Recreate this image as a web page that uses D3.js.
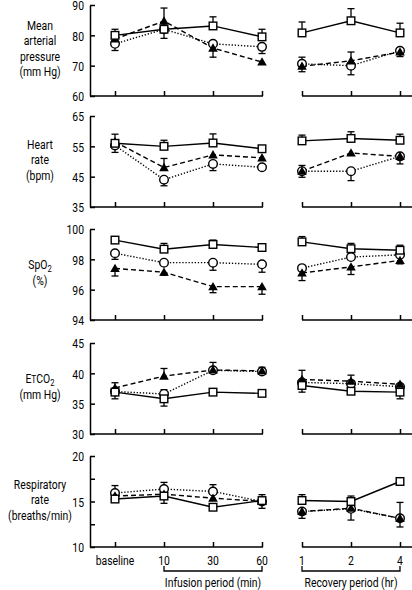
<!DOCTYPE html>
<html><head><meta charset="utf-8">
<script src="https://cdn.jsdelivr.net/npm/d3@7"></script>
<style>
body{margin:0;background:#fff;}
svg text{font-family:Roboto,"Open Sans",sans-serif;fill:#000;}
</style></head>
<body><svg id="c" width="412" height="590"></svg>
<script>
// ---- data ----
const infusionTimes = ["baseline","10","30","60"];
const recoveryTimes = ["1","2","4"];
const infusionLabel = "Infusion period (min)";
const recoveryLabel = "Recovery period (hr)";

const panelDomains = [[60,90],[35,65],[94,100],[30,45],[10,20]];
const panelTicks = [[60,70,80,90],[35,45,55,65],[94,96,98,100],[30,35,40,45],[10,12.5,15,17.5,20]];
const panelTickLabels = [["60","70","80","90"],["35","45","55","65"],["94","96","98","100"],["30","35","40","45"],["10","","15","","20"]];

// values: 7 points = baseline,10,30,60 | 1,2,4 hr
const mapSquare   = [80, 82, 83.1, 79.5, 80.8, 84.8, 80.8];
const mapCircle   = [77.2, 82, 77.2, 76.2, 70.6, 70, 74.9];
const mapTriangle = [78.8, 84.7, 75.8, 71.2, 69.8, 71.6, 74.5];
const mapSquareErr   = [2, 0, 3, 2.5, 3.6, 4, 3.2];
const mapCircleErr   = [-2.2, -3, 0, -2.2, -2.6, -3, -1.9];
const mapTriangleErr = [0, 4.3, -3, 0, 3, 2.9, 0];

const hrSquare   = [56, 55, 56.1, 54.2, 56.8, 57.6, 57];
const hrCircle   = [55.3, 44, 49.2, 48.1, 46.8, 46.8, 51.7];
const hrTriangle = [56.5, 48, 52.2, 51.2, 46.8, 52.8, 51.7];
const hrSquareErr   = [0, 2, 3, 0, 1.9, 2.2, 2];
const hrCircleErr   = [-2.3, -2, -2.2, 0, -2, -3.1, -2.5];
const hrTriangleErr = [2.5, 3, 0, 0, 1.9, 0, 0];

const spo2Square   = [99.27, 98.67, 98.98, 98.78, 99.15, 98.7, 98.6];
const spo2Circle   = [98.4, 97.78, 97.78, 97.67, 97.42, 98.15, 98.3];
const spo2Triangle = [97.4, 97.15, 96.2, 96.2, 97.1, 97.5, 97.93];
const spo2SquareErr   = [0, 0.38, 0.29, 0, 0.35, 0.35, 0.33];
const spo2CircleErr   = [-0.4, 0, -0.5, -0.52, 0, 0, 0];
const spo2TriangleErr = [-0.5, -0.2, -0.4, -0.5, -0.5, -0.5, -0.23];

const etco2Square   = [36.9, 35.8, 36.9, 36.7, 38.0, 37.05, 36.9];
const etco2Circle   = [37.0, 36.6, 40.5, 40.3, 38.5, 38.3, 37.8];
const etco2Triangle = [37.6, 39.55, 40.55, 40.4, 39.0, 38.7, 38.2];
const etco2SquareErr   = [-1.1, -1.2, 0, 0, -1.1, 0, -1.1];
const etco2CircleErr   = [0, 0.7, 0, 0, 0, 0, 0];
const etco2TriangleErr = [0.85, 1.25, 1.25, 0.6, 1.5, 1.0, 0];

const rrSquare   = [15.27, 15.6, 14.37, 15.1, 15.11, 15.0, 17.2];
const rrCircle   = [15.93, 16.37, 16.1, 15.0, 13.9, 14.2, 13.15];
const rrTriangle = [15.6, 15.8, 15.37, 15.0, 13.9, 14.26, 13.15];
const rrSquareErr   = [0, -0.8, 0, -0.85, 0.64, 0.6, 0];
const rrCircleErr   = [0.82, 0.73, 0.75, 0.75, 0, 0, 1.75];
const rrTriangleErr = [0, 0, 0, 0, -0.75, -1.3, -0.95];

const panels = [
  {lines:[["Mean"],["arterial"],["pressure"],["(mm Hg)"]], sq:mapSquare, ci:mapCircle, tr:mapTriangle, sqE:mapSquareErr, ciE:mapCircleErr, trE:mapTriangleErr},
  {lines:[["Heart"],["rate"],["(bpm)"]], sq:hrSquare, ci:hrCircle, tr:hrTriangle, sqE:hrSquareErr, ciE:hrCircleErr, trE:hrTriangleErr},
  {lines:[["SpO",["2","sub"]],["(%)"]], sq:spo2Square, ci:spo2Circle, tr:spo2Triangle, sqE:spo2SquareErr, ciE:spo2CircleErr, trE:spo2TriangleErr},
  {lines:[["E",["T","small"],"CO",["2","sub"]],["(mm Hg)"]], sq:etco2Square, ci:etco2Circle, tr:etco2Triangle, sqE:etco2SquareErr, ciE:etco2CircleErr, trE:etco2TriangleErr},
  {lines:[["Respiratory"],["rate"],["(breaths/min)"]], sq:rrSquare, ci:rrCircle, tr:rrTriangle, sqE:rrSquareErr, ciE:rrCircleErr, trE:rrTriangleErr}
];

// ---- layout ----
const SX = 0.8;   // horizontal condensing of the text face
const FS = 13;
const svg = d3.select("#c");
const axisX = 90;
const panelTop = [5, 116, 229, 343, 456];
const panelH = 91;
const xInf = d3.scalePoint().domain(infusionTimes).range([115, 262]);
const xRec = d3.scalePoint().domain(recoveryTimes).range([302, 400]);
const allTimes = infusionTimes.map(t=>({k:t, x:xInf(t), seg:0})).concat(recoveryTimes.map(t=>({k:t, x:xRec(t), seg:1})));

function condText(parent, x, y, anchor) {
  return parent.append("text")
    .attr("transform", `translate(${x},${y}) scale(${SX},1)`)
    .attr("text-anchor", anchor).attr("font-size", FS);
}

panels.forEach((p, i) => {
  const top = panelTop[i], bot = top + panelH;
  const y = d3.scaleLinear().domain(panelDomains[i]).range([bot, top]);
  const g = svg.append("g");

  // y axis
  const ya = d3.axisLeft(y).tickValues(panelTicks[i])
    .tickFormat((d,j)=>panelTickLabels[i][j]).tickSizeInner(-5).tickSizeOuter(0).tickPadding(0);
  const yg = g.append("g").attr("transform",`translate(${axisX},0)`).call(ya);
  yg.selectAll("path.domain").attr("stroke","#000").attr("stroke-width",1.5);
  yg.selectAll(".tick line").attr("stroke","#000").attr("stroke-width",1.5);
  yg.selectAll(".tick text").attr("font-size",FS).attr("x",0).attr("dy","0.36em")
    .attr("transform",`translate(-6,0) scale(${SX},1)`);

  // x baselines with inward ticks
  const xa1 = d3.axisBottom(xInf).tickSizeInner(-5).tickSizeOuter(0).tickFormat("");
  const xg1 = g.append("g").attr("transform",`translate(0,${bot})`).call(xa1);
  xg1.select("path.domain").attr("d",`M${axisX},0H${xInf("60")+1}`);
  const xa2 = d3.axisBottom(xRec).tickSizeInner(-5).tickSizeOuter(0).tickFormat("");
  const xg2 = g.append("g").attr("transform",`translate(0,${bot})`).call(xa2);
  xg2.select("path.domain").attr("d",`M${xRec("1")},0H412`);
  [xg1,xg2].forEach(xg=>{
    xg.selectAll("path.domain").attr("stroke","#000").attr("stroke-width",1.5);
    xg.selectAll(".tick line").attr("stroke","#000").attr("stroke-width",1.5);
  });

  // y label
  const lh = 15.5;
  const n = p.lines.length;
  const cy = (top+bot)/2 - 2;
  p.lines.forEach((ln, j) => {
    const t = condText(g, 40, cy + (j-(n-1)/2)*lh + 4.5, "middle");
    ln.forEach(part => {
      if (typeof part === "string") t.append("tspan").text(part);
      else if (part[1]==="sub") { t.append("tspan").attr("font-size",9.5).attr("dy","3").text(part[0]); }
      else if (part[1]==="small") { t.append("tspan").attr("font-size",10.5).text(part[0]); }
    });
  });

  const series = [
    {v:p.ci, e:p.ciE, dash:"1.3,1.8", mark:"circle"},
    {v:p.tr, e:p.trE, dash:"5,3", mark:"triangle"},
    {v:p.sq, e:p.sqE, dash:null, mark:"square"}
  ];
  const line = d3.line().x(d=>d.x).y(d=>y(d.v));
  series.forEach(s => {
    const pts = allTimes.map((t,j)=>({x:t.x, seg:t.seg, v:s.v[j]}));
    [0,1].forEach(seg => {
      g.append("path").attr("d", line(pts.filter(d=>d.seg===seg)))
        .attr("fill","none").attr("stroke","#000").attr("stroke-width",1.4)
        .attr("stroke-dasharray", s.dash);
    });
  });
  series.forEach(s => {
    allTimes.forEach((t,j)=>{
      const e = s.e[j]; if (!e) return;
      const y0 = y(s.v[j]), y1 = y(s.v[j]+e);
      g.append("line").attr("x1",t.x).attr("x2",t.x).attr("y1",y0).attr("y2",y1).attr("stroke","#000").attr("stroke-width",1.3);
      g.append("line").attr("x1",t.x-3.5).attr("x2",t.x+3.5).attr("y1",y1).attr("y2",y1).attr("stroke","#000").attr("stroke-width",1.3);
    });
  });
  series.forEach(s => {
    allTimes.forEach((t,j)=>{
      const cx = t.x, yy = y(s.v[j]);
      if (s.mark==="circle") g.append("circle").attr("cx",cx).attr("cy",yy).attr("r",4.3).attr("fill","#fff").attr("stroke","#000").attr("stroke-width",1.4);
      else if (s.mark==="square") g.append("rect").attr("x",cx-3.8).attr("y",yy-3.8).attr("width",7.6).attr("height",7.6).attr("fill","#fff").attr("stroke","#000").attr("stroke-width",1.4);
      else g.append("path").attr("d", d3.symbol(d3.symbolTriangle, 40)()).attr("transform",`translate(${cx},${yy+0.8})`).attr("fill","#000");
    });
  });
});

// bottom tick labels
const lastBot = panelTop[4] + panelH;
allTimes.forEach(t => {
  condText(svg, t.x, lastBot+18, "middle").text(t.k);
});
function bracket(x1, x2, label) {
  const yb = lastBot + 24;
  svg.append("path").attr("d",`M${x1},${yb-5}V${yb}H${x2}V${yb-5}`).attr("fill","none").attr("stroke","#000").attr("stroke-width",1.3);
  condText(svg, (x1+x2)/2, yb+16, "middle").text(label);
}
bracket(xInf("10"), xInf("60"), infusionLabel);
bracket(xRec("1"), xRec("4"), recoveryLabel);
</script></body></html>
